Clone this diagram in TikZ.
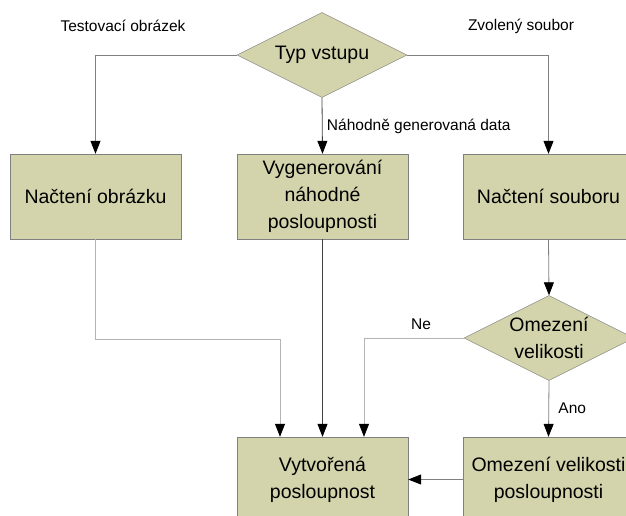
\documentclass[tikz,border=0pt]{standalone}
\usepackage{fontspec}
\setmainfont{Liberation Sans}
\usetikzlibrary{shapes.geometric,arrows.meta}
\definecolor{khaki}{RGB}{212,212,172}
\definecolor{linedark}{RGB}{64,64,64}
\definecolor{linemid}{RGB}{128,128,128}
\definecolor{linelight}{RGB}{180,180,180}
\begin{document}
\begin{tikzpicture}[x=1pt, y=-1pt,
		blok/.style={draw=linemid, fill=khaki, minimum width=171pt, minimum height=85pt, inner sep=0pt,
			align=center, font=\fontsize{19.5}{27}\selectfont},
		rozhod/.style={diamond, draw=linemid, fill=khaki, minimum width=170pt, minimum height=85pt, inner sep=0pt,
			aspect=2, align=center, font=\fontsize{19.5}{27}\selectfont},
		popis/.style={text=black, font=\fontsize{15.5}{18}\selectfont},
		sipka/.style={-{Triangle[black, length=13pt, width=10pt]}, linemid, line width=0.8pt}]
	\useasboundingbox (0, 0) rectangle (626, 515);
	\clip (0, 0) rectangle (626, 515);

	\node[rozhod] (typ)		at (322, 55)	{Typ vstupu};
	\node[blok] (obr)		at (95.5, 196.5)	{Načtení obrázku};
	\node[blok] (gen)		at (322.5, 196.5)	{Vygenerování\\náhodné\\posloupnosti};
	\node[blok] (soub)		at (548.5, 196.5)	{Načtení souboru};
	\node[rozhod] (omez)	at (549, 338)	{Omezení\\velikosti};
	\node[blok] (vyt)		at (322.5, 479.5)	{Vytvořená\\posloupnost};
	\node[blok] (ovel)		at (548.5, 479.5)	{Omezení velikosti\\posloupnosti};

	\node[popis] (ltest)	at (123, 26)	{Testovací obrázek};
	\node[popis] (lzvol)	at (521, 26)	{Zvolený soubor};

	\coordinate (lj) at (280, 339);
	\coordinate (ne) at (364, 338);

	\draw[sipka]	(typ.west) -| (obr.north);
	\draw[sipka]	(typ.east) -| (soub.north);
	\draw[sipka, linedark]	(typ.south) -- node[popis, right, xshift=1pt, yshift=-1pt]{Náhodně generovaná data} (gen.north);
	\draw[sipka]	(soub.south) -- (omez.north);
	\draw[sipka, linelight]	(obr.south) |- (lj) -- (lj |- vyt.north);
	\draw[sipka, linedark]	(gen.south) -- (vyt.north);
	\draw[sipka, linelight]	(omez.west) -- (ne) -- (ne |- vyt.north);
	\node[popis] (lne) at (421, 324) {Ne};
	\draw[sipka]	(omez.south) -- node[popis, right, xshift=6pt, yshift=1pt]{Ano} (ovel.north);
	\draw[sipka]	(ovel.west) -- (vyt.east);
\end{tikzpicture}
\end{document}
